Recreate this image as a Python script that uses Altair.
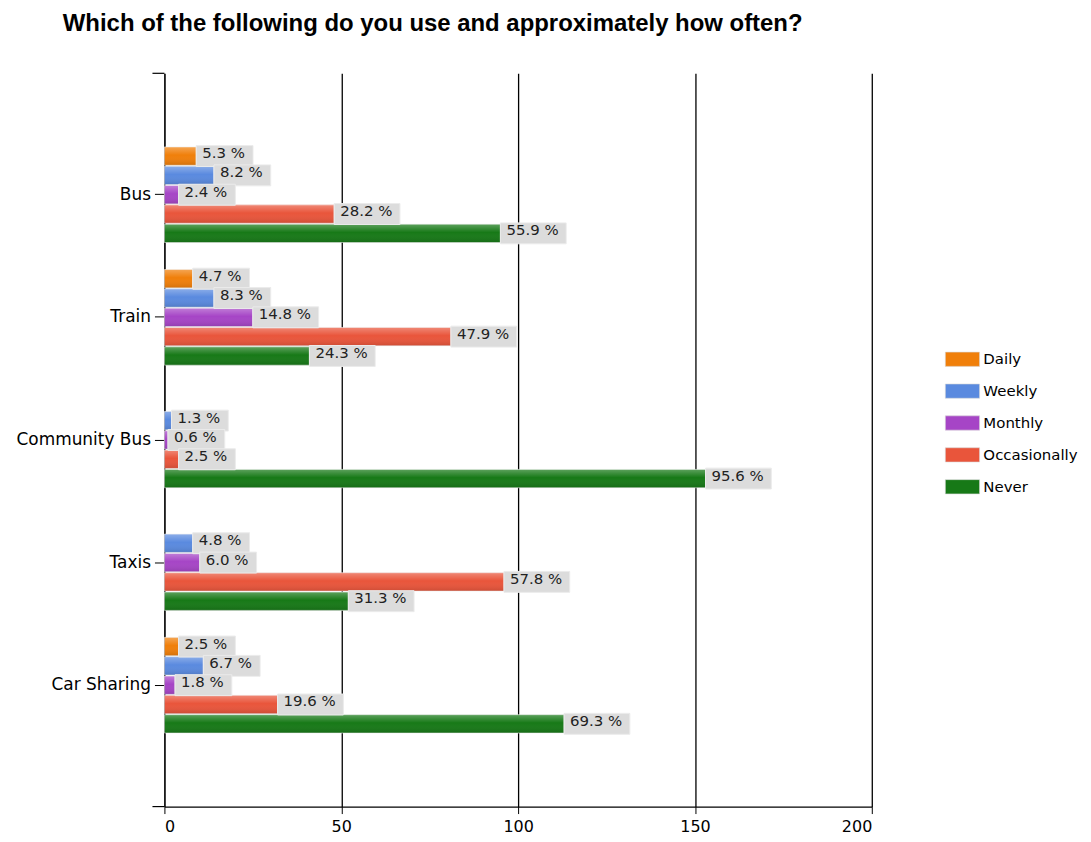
import altair as alt
import pandas as pd

modes = ["Bus", "Train", "Community Bus", "Taxis", "Car Sharing"]
freqs = ["Daily", "Weekly", "Monthly", "Occasionally", "Never"]
colors = ["#F07F0A", "#5A8ADF", "#A645C6", "#E9553B", "#177917"]

# respondent counts (bar length, read against the 0-200 axis)
daily = [9, 8, 0, 0, 4]
weekly = [14, 14, 2, 8, 11]
monthly = [4, 25, 1, 10, 3]
occasionally = [48, 81, 4, 96, 32]
never = [95, 41, 153, 52, 113]

# percentage labels shown next to bars
daily_pct = ["5.3 %", "4.7 %", "", "", "2.5 %"]
weekly_pct = ["8.2 %", "8.3 %", "1.3 %", "4.8 %", "6.7 %"]
monthly_pct = ["2.4 %", "14.8 %", "0.6 %", "6.0 %", "1.8 %"]
occasionally_pct = ["28.2 %", "47.9 %", "2.5 %", "57.8 %", "19.6 %"]
never_pct = ["55.9 %", "24.3 %", "95.6 %", "31.3 %", "69.3 %"]

series = [daily, weekly, monthly, occasionally, never]
labels = [daily_pct, weekly_pct, monthly_pct, occasionally_pct, never_pct]

rows = []
for f, vals, labs in zip(freqs, series, labels):
    for m, v, l in zip(modes, vals, labs):
        if v > 0:
            rows.append({"mode": m, "freq": f, "count": v, "label": l})
df = pd.DataFrame(rows)

FONT = "DejaVu Sans"

y_enc = alt.Y("mode:N", sort=modes,
              scale=alt.Scale(paddingInner=0.22, paddingOuter=0.6),
              axis=alt.Axis(title=None, labelFontSize=17, labelFont=FONT, labelColor="black",
                            tickSize=10, tickColor="black", domainColor="black",
                            labelPadding=4, grid=False))
yoff = alt.YOffset("freq:N", sort=freqs, scale=alt.Scale(domain=freqs, paddingInner=0.05))
x_enc = alt.X("count:Q", scale=alt.Scale(domain=[0, 200], nice=False),
              axis=alt.Axis(title=None, values=[0, 50, 100, 150, 200], grid=True,
                            gridColor="black", gridWidth=1.3, gridOpacity=1,
                            domainColor="black", domainWidth=1.3, tickColor="black",
                            tickSize=7, labelFontSize=16, labelFont=FONT, labelColor="black",
                            labelPadding=5))

base = alt.Chart(df)

bars = base.mark_bar(stroke="#f0f0f0", strokeWidth=0.6).encode(
    y=y_enc, yOffset=yoff, x=x_enc,
    color=alt.Color("freq:N", sort=freqs,
                    scale=alt.Scale(domain=freqs, range=colors),
                    legend=alt.Legend(title=None, orient="none", legendX=786, legendY=272,
                                      labelFont=FONT, labelFontSize=15, labelColor="black",
                                      symbolType="M-1.2,-0.5H1.2V0.5H-1.2Z", symbolSize=820,
                                      symbolStrokeColor="#d8d8d8", symbolStrokeWidth=0.6,
                                      symbolOpacity=1, rowPadding=8, labelOffset=6, padding=0)),
)

shade = base.mark_bar(fill=alt.Gradient(
    gradient="linear", x1=0, y1=0, x2=0, y2=1,
    stops=[alt.GradientStop(offset=0, color="rgba(255,255,255,0.3)"),
           alt.GradientStop(offset=0.45, color="rgba(255,255,255,0)"),
           alt.GradientStop(offset=1, color="rgba(0,0,0,0.12)")])).encode(
    y=alt.Y("mode:N", sort=modes), yOffset=yoff, x="count:Q")

boxes = base.transform_calculate(
    xend="datum.count + (9 * length(datum.label) + 12) * 200 / 710"
).mark_bar(height=21, yOffset=-3, color="#dcdcdc", stroke="#ebebeb", strokeWidth=1).encode(
    y=alt.Y("mode:N", sort=modes), yOffset=yoff, x="count:Q", x2="xend:Q")

texts = base.mark_text(align="left", baseline="middle", dx=6, dy=-3, font=FONT,
                       fontSize=15, color="#222222").encode(
    y=alt.Y("mode:N", sort=modes), yOffset=yoff, x="count:Q", text="label:N")

extra_ticks = alt.Chart(pd.DataFrame({"t": [0]})).mark_rule(color="black", strokeWidth=1.2).encode(
    x=alt.value(-12), x2=alt.value(0), y=alt.value(0))
extra_ticks2 = alt.Chart(pd.DataFrame({"t": [0]})).mark_rule(color="black", strokeWidth=1.2).encode(
    x=alt.value(-12), x2=alt.value(0), y=alt.value(736))

chart = alt.layer(bars, shade, boxes, texts, extra_ticks, extra_ticks2).properties(
    width=710, height=736,
    title=alt.TitleParams("Which of the following do you use and approximately how often?",
                          anchor="start", frame="group", dx=-102, offset=37,
                          font="Liberation Sans", fontSize=24, fontWeight="bold", color="black"),
    padding={"left": 7, "top": 2, "right": 5, "bottom": 5},
).configure_view(stroke=None)

chart.save("out.html", embed_options={"renderer": "svg", "actions": False})
